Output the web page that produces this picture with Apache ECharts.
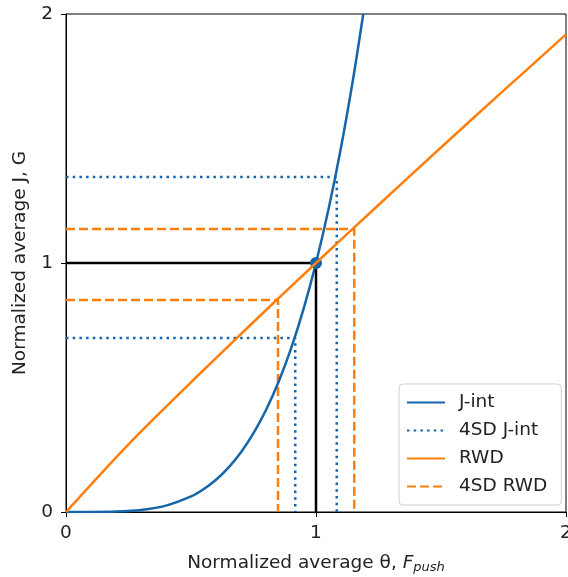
<!DOCTYPE html>
<html>
<head>
<meta charset="utf-8">
<script src="https://cdn.jsdelivr.net/npm/echarts@6/dist/echarts.min.js"></script>
<style>
  html, body { margin: 0; padding: 0; background: #fff; overflow: hidden; }
  #chart { width: 568px; height: 577px; }
</style>
</head>
<body>
<div id="chart"></div>
<script>
// J-integral response versus normalized theta
const jIntX = [0, 0.1, 0.2, 0.3, 0.4, 0.5, 0.55, 0.6, 0.65, 0.7, 0.75, 0.8, 0.85, 0.9, 0.95, 1.0, 1.05, 1.1, 1.15, 1.189];
const jIntY = [0, 0.0001, 0.0016, 0.0081, 0.0256, 0.0625, 0.0915, 0.1296, 0.1785, 0.2401, 0.3164, 0.4096, 0.522, 0.6561, 0.8145, 1.0, 1.2155, 1.4641, 1.749, 2.0];

// RWD response versus normalized push force
const rwdX = [0, 0.25, 0.5, 0.75, 1.0, 1.25, 1.5, 1.75, 2.0];
const rwdY = [0, 0.272, 0.521, 0.763, 1.0, 1.233, 1.464, 1.692, 1.918];

// 4SD bounds: [x, y] corners of each guide
const sdJintLow = [0.917, 0.699];
const sdJintHigh = [1.083, 1.345];
const sdRwdLow = [0.848, 0.851];
const sdRwdHigh = [1.153, 1.137];

// Nominal operating point
const nominal = [1, 1];

const tickValues = [0, 1, 2];

const BLUE = '#1565ab';
const ORANGE = '#ff7f0e';
const FONT = 'DejaVu Sans';
const FS = 18.5;

function zip(xs, ys) { return xs.map((x, i) => [x, ys[i]]); }
function guide(pt) { return [[0, pt[1]], [pt[0], pt[1]], [pt[0], 0]]; }

const dotted = [2.5, 4.2];
const dashed = [9, 4];
const LW = 2.5;

const chart = echarts.init(document.getElementById('chart'), null, { renderer: 'canvas', width: 568, height: 577 });

const option = {
  animation: false,
  backgroundColor: '#fff',
  grid: {
    left: 66, right: 2, top: 14, bottom: 65,
    outerBoundsMode: 'none', containLabel: false,
    show: true, borderColor: '#000', borderWidth: 1, backgroundColor: 'transparent'
  },
  xAxis: {
    type: 'value', min: 0, max: 2, interval: 1,
    axisLine: { lineStyle: { color: '#000', width: 1 } },
    axisTick: { show: true, length: 5, lineStyle: { color: '#000' } },
    splitLine: { show: false },
    axisLabel: { fontFamily: FONT, fontSize: FS, color: '#222', margin: 12,
      formatter: v => tickValues.includes(v) ? String(v) : '' },
    name: '{a|Normalized average θ, }{f|F}{s|push}',
    nameLocation: 'middle', nameGap: 40,
    nameTextStyle: {
      rich: {
        a: { fontFamily: FONT, fontSize: FS, color: '#222' },
        f: { fontFamily: FONT, fontSize: FS, color: '#222', fontStyle: 'italic' },
        s: { fontFamily: FONT, fontSize: 13, color: '#222', fontStyle: 'italic', padding: [9, 0, 0, 0] }
      }
    }
  },
  yAxis: {
    type: 'value', min: 0, max: 2, interval: 1,
    axisLine: { show: true, lineStyle: { color: '#000', width: 1 } },
    axisTick: { show: true, length: 5, lineStyle: { color: '#000' } },
    splitLine: { show: false },
    axisLabel: { fontFamily: FONT, fontSize: FS, color: '#222', margin: 13 },
    name: 'Normalized average J, G',
    nameLocation: 'middle', nameGap: 36,
    nameTextStyle: { fontFamily: FONT, fontSize: FS, color: '#222' }
  },
  legend: {
    orient: 'vertical', left: 399, top: 384,
    itemWidth: 38, itemHeight: 14, itemGap: 9,
    padding: [9, 14, 9, 7],
    borderColor: '#d0d0d0', borderWidth: 1, borderRadius: 4,
    backgroundColor: 'rgba(255,255,255,0.85)',
    itemStyle: { opacity: 0, color: 'transparent', borderWidth: 0 },
    textStyle: { fontFamily: FONT, fontSize: FS, color: '#222', padding: [0, 0, 0, 9] },
    data: ['J-int', '4SD J-int', 'RWD', '4SD RWD']
  },
  series: [
    { name: 'J-int', type: 'line', data: zip(jIntX, jIntY), smooth: 0.3, symbol: 'none', clip: true,
      lineStyle: { color: BLUE, width: LW }, itemStyle: { color: BLUE }, z: 3 },
    { name: '4SD J-int', type: 'line', data: guide(sdJintLow), symbol: 'none',
      lineStyle: { color: BLUE, width: LW, type: dotted }, itemStyle: { color: BLUE }, z: 2 },
    { name: '4SD J-int', type: 'line', data: guide(sdJintHigh), symbol: 'none',
      lineStyle: { color: BLUE, width: LW, type: dotted }, itemStyle: { color: BLUE }, z: 2 },
    { name: 'RWD', type: 'line', data: zip(rwdX, rwdY), smooth: 0.3, symbol: 'none',
      lineStyle: { color: ORANGE, width: LW }, itemStyle: { color: ORANGE }, z: 5 },
    { name: '4SD RWD', type: 'line', data: guide(sdRwdLow), symbol: 'none',
      lineStyle: { color: ORANGE, width: LW, type: dashed }, itemStyle: { color: ORANGE }, z: 2 },
    { name: '4SD RWD', type: 'line', data: guide(sdRwdHigh), symbol: 'none',
      lineStyle: { color: ORANGE, width: LW, type: dashed }, itemStyle: { color: ORANGE }, z: 2 },
    { name: 'nominal', type: 'line', data: guide(nominal), symbol: 'none',
      lineStyle: { color: '#000', width: LW }, z: 3 },
    { name: 'nominal point', type: 'scatter', data: [nominal], symbolSize: 12,
      itemStyle: { color: BLUE, opacity: 1 }, z: 4 }
  ]
};

chart.setOption(option);
</script>
</body>
</html>
